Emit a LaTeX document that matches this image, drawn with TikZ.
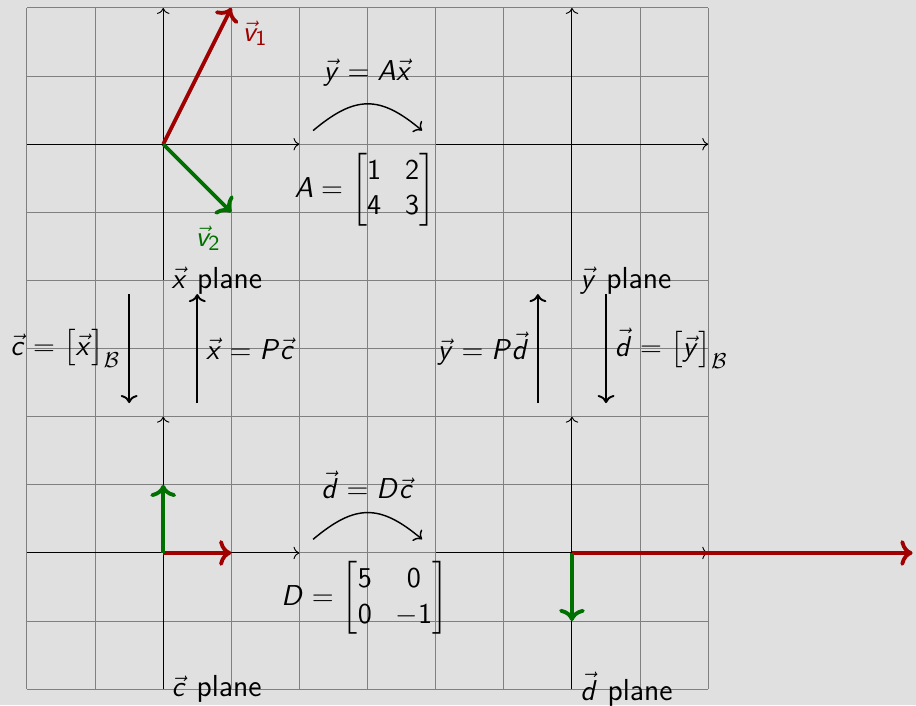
\documentclass[tikz,border=0pt]{standalone}
\usepackage{amsmath,amssymb}
\renewcommand{\familydefault}{\sfdefault}
% sans serif math, as on slides
\DeclareSymbolFont{vecletters}{OML}{cmm}{m}{it}
\SetSymbolFont{letters}{normal}{OT1}{cmss}{m}{sl}
\SetSymbolFont{operators}{normal}{OT1}{cmss}{m}{n}
\DeclareMathAccent{\vec}{\mathord}{vecletters}{"7E}
\usepackage{tikz}
\usetikzlibrary{arrows.meta,calc}
\definecolor{bgcol}{RGB}{224,224,224}
\definecolor{vred}{RGB}{160,0,0}
\definecolor{vgreen}{RGB}{0,112,0}

\begin{document}
\begin{tikzpicture}[>=To,font=\fontsize{12.7}{15}\selectfont,
  vecline/.style={ultra thick,->},
  maparrow/.style={thick,->}]
\useasboundingbox[fill=bgcol] (-0.396,-0.235) rectangle (13.05,10.117);
\draw[gray,thin] (0,0) grid (10,10);
% origins of the four planes
\coordinate (ox) at (2,8);
\coordinate (oy) at (8,8);
\coordinate (oc) at (2,2);
\coordinate (od) at (8,2);
% axes
\draw[->] (0,8) -- (4,8);
\draw[->] (2,6) -- (2,10);
\draw[->] (6,8) -- (10,8);
\draw[->] (8,6) -- (8,10);
\draw[->] (0,2) -- (4,2);
\draw[->] (2,0) -- (2,4);
\draw[->] (6,2) -- (10,2);
\draw[->] (8,0) -- (8,4);
\node[right] (xplane) at (2,6) {$\vec{x}$ plane};
\node[right] (yplane) at (8,6) {$\vec{y}$ plane};
\node[right] (cplane) at (2,0) {$\vec{c}$ plane};
\node[right] (dplane) at (8,0) {$\vec{d}$ plane};
% eigenvectors in the x plane
\coordinate (v1) at (3,10);
\coordinate (v2) at (3,7);
\draw[vred,vecline] (ox) -- (v1);
\draw[vgreen,vecline] (ox) -- (v2);
\node[vred] (v1lab) at (3.35,9.63) {$\vec{v}_1$};
\node[vgreen] (v2lab) at (2.66,6.62) {$\vec{v}_2$};
% basis vectors in the c plane
\coordinate (e1) at (3,2);
\coordinate (e2) at (2,3);
\draw[vred,vecline] (oc) -- (e1);
\draw[vgreen,vecline] (oc) -- (e2);
% images in the d plane
\coordinate (De1) at (13,2);
\coordinate (De2) at (8,1);
\draw[vred,vecline] (od) -- (De1);
\draw[vgreen,vecline] (od) -- (De2);
% maps between the planes
\coordinate (atop) at (4.2,8.2);
\coordinate (btop) at (5.8,8.2);
\coordinate (abot) at (4.2,2.2);
\coordinate (bbot) at (5.8,2.2);
\draw[semithick,->] (atop) to[out=40,in=140,looseness=1.3] (btop);
\draw[semithick,->] (abot) to[out=40,in=140,looseness=1.3] (bbot);
\node (ymap) at (5,9.05) {$\vec{y}=A\vec{x}$};
\node (amat) at (4.96,7.33) {$A=\begin{bmatrix}1&2\\4&3\end{bmatrix}$};
\node (dmap) at (5,3.0) {$\vec{d}=D\vec{c}$};
\node (dmat) at (4.96,1.34) {$D=\begin{bmatrix}5&0\\0&-1\end{bmatrix}$};
% change of basis
\coordinate (c1) at (1.5,5.8);
\coordinate (c2) at (1.5,4.2);
\coordinate (x1) at (2.5,4.2);
\coordinate (x2) at (2.5,5.8);
\coordinate (y1) at (7.5,4.2);
\coordinate (y2) at (7.5,5.8);
\coordinate (d1) at (8.5,5.8);
\coordinate (d2) at (8.5,4.2);
\draw[maparrow] (c1) -- (c2) node[midway,left] (clab) {$\vec{c}=\bigl[\vec{x}\bigr]_{\mathcal{B}}$};
\draw[maparrow] (x1) -- (x2) node[midway,right] (xlab) {$\vec{x}=P\vec{c}$};
\draw[maparrow] (y1) -- (y2) node[midway,left] (ylab) {$\vec{y}=P\vec{d}$};
\draw[maparrow] (d1) -- (d2) node[midway,right] (dlab) {$\vec{d}=\bigl[\vec{y}\bigr]_{\mathcal{B}}$};
\end{tikzpicture}
\end{document}
